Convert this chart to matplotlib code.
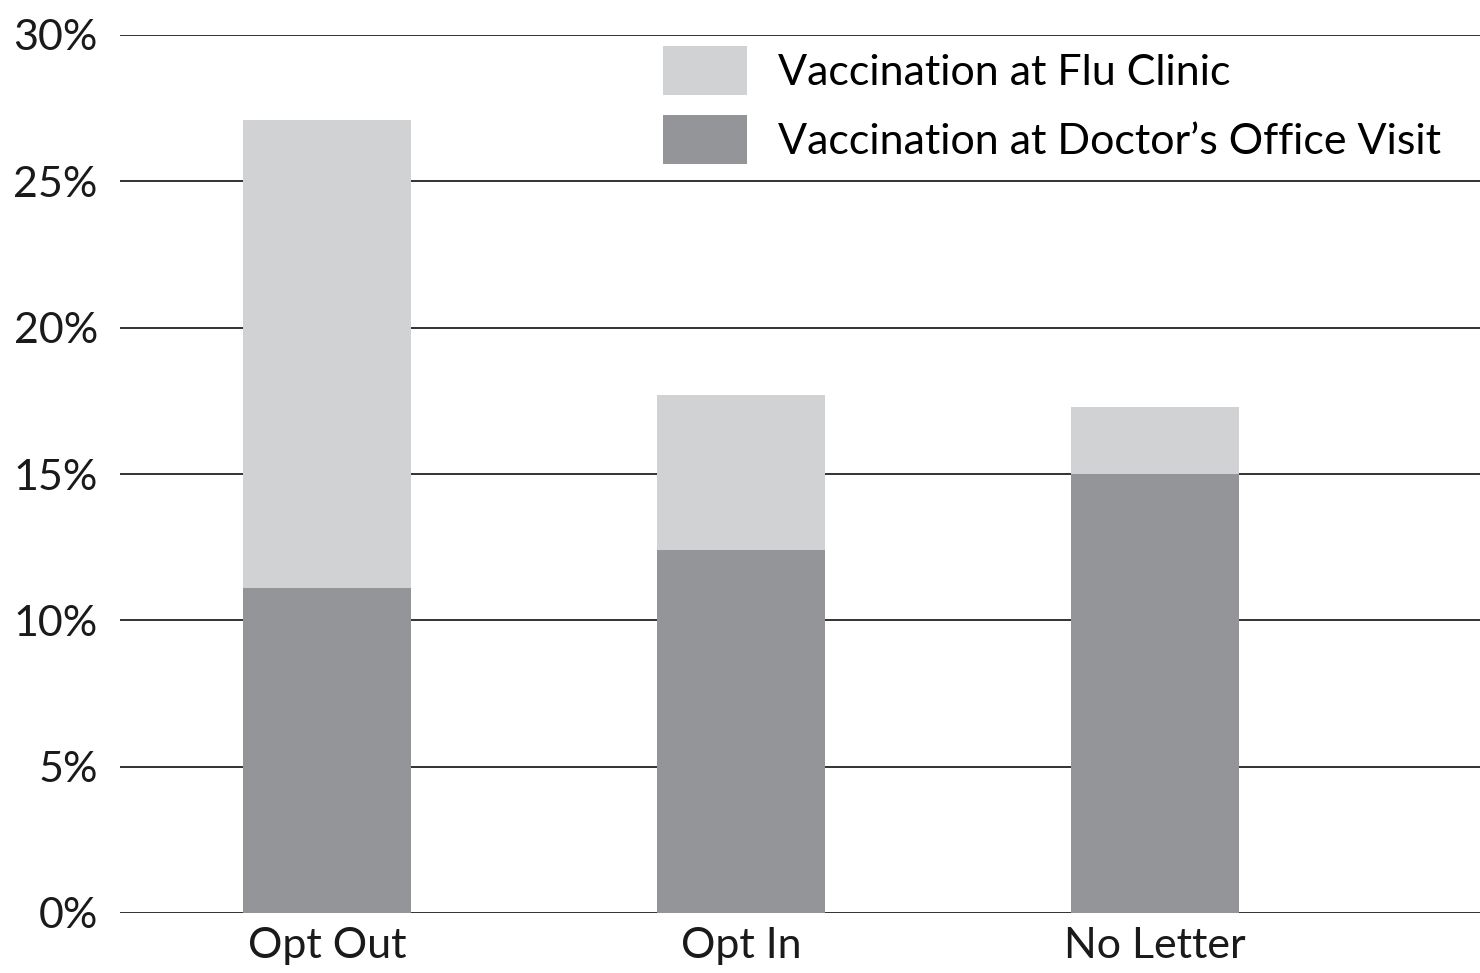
import matplotlib.pyplot as plt
from matplotlib.patches import Patch
from matplotlib.ticker import FuncFormatter

# Data (percent)
groups = ["Opt Out", "Opt In", "No Letter"]
doctor_office = [11.1, 12.4, 15.0]
flu_clinic = [16.0, 5.3, 2.3]
series_labels = ["Vaccination at Flu Clinic", "Vaccination at Doctor\u2019s Office Visit"]

light = "#d1d2d4"
dark = "#939598"

plt.rcParams["font.family"] = ["Lato", "DejaVu Sans"]

fig = plt.figure(figsize=(14.8, 9.73), dpi=100)
ax = fig.add_axes([120 / 1480, 60 / 973, 1360 / 1480, 878 / 973])

x = range(len(groups))
ax.bar(x, doctor_office, width=0.405, color=dark, zorder=3)
ax.bar(x, flu_clinic, width=0.405, bottom=doctor_office, color=light, zorder=3)

ax.set_ylim(0, 30)
ax.set_xlim(-0.5, 2.785)
ax.set_yticks(range(0, 31, 5))
ax.yaxis.set_major_formatter(FuncFormatter(lambda v, p: f"{v:.0f}%"))
ax.set_xticks(list(x))
ax.set_xticklabels(groups)

# horizontal gridlines
ax.grid(axis="y", color="#222222", linewidth=1.3, zorder=1)
ax.set_axisbelow(True)

for s in ax.spines.values():
    s.set_visible(False)
ax.tick_params(axis="both", length=0, labelsize=31, colors="#1a1a1a")
ax.tick_params(axis="y", pad=16)
ax.tick_params(axis="x", pad=10)

handles = [Patch(facecolor=light), Patch(facecolor=dark)]
ax.legend(handles, series_labels, loc="upper left", bbox_to_anchor=(0.399, 0.988),
          frameon=False, fontsize=31, handlelength=1.95, handleheight=1.4,
          handletextpad=0.74, labelspacing=0.45, borderpad=0, borderaxespad=0)

fig.savefig("out.png", dpi=100)
